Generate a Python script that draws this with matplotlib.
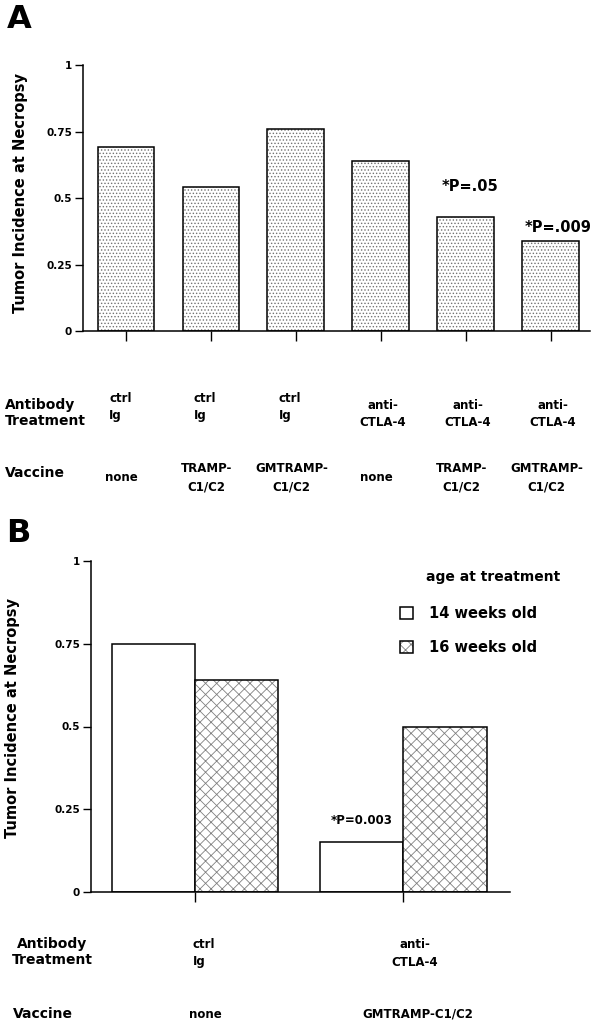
import matplotlib
matplotlib.use("Agg")
import matplotlib.pyplot as plt
import matplotlib.transforms as mtransforms
from matplotlib.legend_handler import HandlerTuple
import numpy as np

plt.rcParams['font.family'] = ['DejaVu Sans']
plt.rcParams['hatch.linewidth'] = 0.6

# ---- data, panel A
a_values = [0.69, 0.54, 0.76, 0.64, 0.43, 0.34]
a_antibody = ["ctrl\nIg", "ctrl\nIg", "ctrl\nIg", "anti-\nCTLA-4", "anti-\nCTLA-4", "anti-\nCTLA-4"]
a_vaccine = ["none", "TRAMP-\nC1/C2", "GMTRAMP-\nC1/C2", "none", "TRAMP-\nC1/C2", "GMTRAMP-\nC1/C2"]
a_note_idx = [4, 5]
a_notes = ["*P=.05", "*P=.009"]

# ---- data, panel B
b_antibody = ["ctrl\nIg", "anti-\nCTLA-4"]
b_vaccine = ["none", "GMTRAMP-C1/C2"]
b_14wk = [0.75, 0.15]
b_16wk = [0.64, 0.50]
b_series = ["14 weeks old", "16 weeks old"]
b_note = "*P=0.003"

yticks = [0, 0.25, 0.5, 0.75, 1]
ytick_labels = ["0", "0.25", "0.5", "0.75", "1"]

W, H = 603, 1026


def fx(x):
    return x / W


def fy(y):
    return 1 - y / H


def style_axis(ax):
    ax.spines['top'].set_visible(False)
    ax.spines['right'].set_visible(False)
    ax.spines['left'].set_linewidth(1.1)
    ax.spines['bottom'].set_linewidth(1.1)
    ax.set_ylim(0, 1)
    ax.set_yticks(yticks)
    ax.set_yticklabels(ytick_labels, fontsize=7.5, fontweight='bold')
    ax.tick_params(axis='y', direction='out', length=6, width=1, pad=2)
    ax.tick_params(axis='x', direction='out', length=7, width=1, labelbottom=False)


fig = plt.figure(figsize=(6.03, 10.26), dpi=100)

# ================= Panel A
axA = fig.add_axes([fx(83), fy(331), (590 - 83) / W, (331 - 65) / H])
xA = np.arange(len(a_values))
axA.bar(xA, a_values, width=0.67, color='white', edgecolor='0.45', linewidth=0, hatch='.....')
axA.bar(xA, a_values, width=0.67, fill=False, edgecolor='black', linewidth=1.1)
axA.set_xlim(-0.506, 5.46)
axA.set_xticks(xA)
style_axis(axA)

note_dy = [0.085, 0.02]
note_dx = [0.05, 0.09]
for k, i in enumerate(a_note_idx):
    axA.text(i + note_dx[k], a_values[i] + note_dy[k], a_notes[k], ha='center', va='bottom',
             fontsize=10.5, fontweight='bold')

fig.text(fx(21), fy(193), "Tumor Incidence at Necropsy", rotation=90, ha='center', va='center',
         fontsize=10.5, fontweight='bold')
fig.text(fx(7), fy(19), "A", ha='left', va='center', fontsize=23, fontweight='bold')

trA = mtransforms.blended_transform_factory(axA.transData, fig.transFigure)
fig.text(fx(5), fy(413), "Antibody\nTreatment", ha='left', va='center', fontsize=10,
         fontweight='bold', linespacing=1.2)
fig.text(fx(5), fy(473), "Vaccine", ha='left', va='center', fontsize=10, fontweight='bold')
for i, lab in enumerate(a_antibody):
    if lab.startswith("ctrl"):
        axA.text(i - 0.2, fy(407), lab, transform=trA, ha='left', va='center', fontsize=8.5,
                 fontweight='bold', linespacing=1.5)
    else:
        axA.text(i + 0.02, fy(414), lab, transform=trA, ha='center', va='center', fontsize=8.5,
                 fontweight='bold', linespacing=1.35, multialignment='center')
for i, lab in enumerate(a_vaccine):
    axA.text(i - 0.05, fy(478), lab, transform=trA, ha='center', va='center', fontsize=8.5,
             fontweight='bold', linespacing=1.5, multialignment='center')

# ================= Panel B
axB = fig.add_axes([fx(91), fy(892), (510 - 91) / W, (892 - 561) / H])
xB = np.arange(len(b_14wk))
w = 0.4
b1 = axB.bar(xB - w / 2, b_14wk, w, color='white', edgecolor='black', linewidth=1.1)
b2f = axB.bar(xB + w / 2, b_16wk, w, color='white', edgecolor='0.5', linewidth=0, hatch='xxx')
b2e = axB.bar(xB + w / 2, b_16wk, w, fill=False, edgecolor='black', linewidth=1.1)
axB.set_xlim(-0.499, 1.511)
axB.set_xticks(xB)
style_axis(axB)

axB.text(-w / 2 + 1, b_14wk[1] + 0.045, b_note, ha='center', va='bottom', fontsize=8.5,
         fontweight='bold')

axB.legend([b1[0], (b2f[0], b2e[0])], b_series, handler_map={tuple: HandlerTuple(ndivide=1)},
           loc='upper left', bbox_to_anchor=(fx(400), fy(606)), bbox_transform=fig.transFigure,
           frameon=False, borderpad=0, borderaxespad=0, handlelength=0.9, handleheight=0.9,
           handletextpad=1.1, labelspacing=1.3, prop={'size': 10.5, 'weight': 'bold'})
fig.text(fx(426), fy(577), "age at treatment", ha='left', va='center', fontsize=10,
         fontweight='bold')

fig.text(fx(13), fy(718), "Tumor Incidence at Necropsy", rotation=90, ha='center', va='center',
         fontsize=10.5, fontweight='bold')
fig.text(fx(6), fy(533), "B", ha='left', va='center', fontsize=23, fontweight='bold')

trB = mtransforms.blended_transform_factory(axB.transData, fig.transFigure)
fig.text(fx(52), fy(952), "Antibody\nTreatment", ha='center', va='center', fontsize=10,
         fontweight='bold', linespacing=1.2, multialignment='center')
fig.text(fx(13), fy(1014), "Vaccine", ha='left', va='center', fontsize=10, fontweight='bold')
for i, lab in enumerate(b_antibody):
    if lab.startswith("ctrl"):
        axB.text(i - 0.01, fy(953), lab, transform=trB, ha='left', va='center', fontsize=8.5,
                 fontweight='bold', linespacing=1.5)
    else:
        axB.text(i + 0.055, fy(953), lab, transform=trB, ha='center', va='center', fontsize=8.5,
                 fontweight='bold', linespacing=1.5, multialignment='center')
for i, lab in enumerate(b_vaccine):
    axB.text(i + 0.05 + 0.02 * i, fy(1014), lab, transform=trB, ha='center', va='center',
             fontsize=8.5, fontweight='bold')

fig.savefig("out.png", dpi=100)
